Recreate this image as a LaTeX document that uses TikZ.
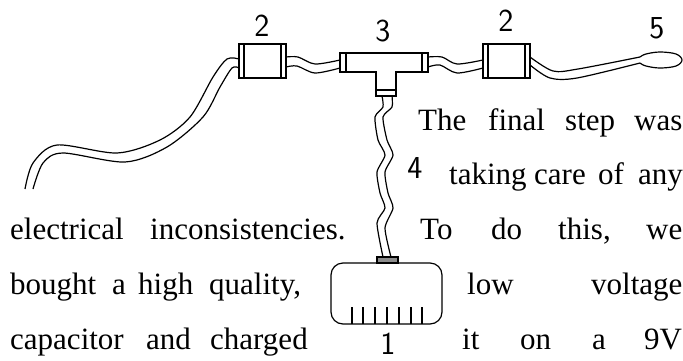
\documentclass[tikz,border=0pt]{standalone}
\usepackage{fontspec}
\setmainfont{Liberation Serif}
\begin{document}
\begin{tikzpicture}
        [x=1pt,y=-1pt,
        wire/.style={line width=1.2pt, smooth},
        part/.style={draw, line width=1.2pt},
        digit/.style={font=\fontsize{32}{32}\sffamily, inner sep=0pt},
        word/.style={anchor=base west, inner sep=0pt, font=\fontsize{31}{31}\selectfont}]
        \useasboundingbox (0,0) rectangle (683,360);

        % far left lead and first connector
        \draw[wire] plot[tension=0.5] coordinates {(25,189) (33,163) (57,145) (117,153) (160,140) (190,117) (213,77) (227,59) (239,59)};
        \draw[wire] plot[tension=0.5] coordinates {(33,189) (43,163) (63,153) (125,162) (167,147) (203,117) (220,87) (232,68) (239,68)};
        \node[part, minimum width=47pt, minimum height=34pt, inner sep=0pt] (boxA) at (262.5,61) {};
        \draw[line width=1.2pt] (244,44) -- (244,78);
        \draw[line width=1.2pt] (281,44) -- (281,78);
        \draw[wire] plot[tension=0.5] coordinates {(286,57) (298,57) (315,64) (340,60)};
        \draw[wire] plot[tension=0.5] coordinates {(286,67) (297,66) (315,73) (340,68)};

        % tee piece
        \draw[part] (340,53) rectangle (346,72);
        \draw[part] (422,53) rectangle (428,72);
        \draw[part] (346,53) -- (422,53) -- (422,72) -- (396,72) -- (396,96) -- (376,96) -- (376,72) -- (346,72) -- cycle;
        \draw[line width=1.2pt] (376,90) -- (396,90);

        % second connector and plug
        \draw[wire] plot[tension=0.5] coordinates {(428,57) (442,57) (457,64) (483,60)};
        \draw[wire] plot[tension=0.5] coordinates {(428,67) (440,65) (457,73) (483,68)};
        \node[part, minimum width=47pt, minimum height=34pt, inner sep=0pt] (boxB) at (506.5,61) {};
        \draw[line width=1.2pt] (488,44) -- (488,78);
        \draw[line width=1.2pt] (525,44) -- (525,78);
        \draw[wire] plot[tension=0.5] coordinates {(530,57) (553,71) (578,69) (640,57)};
        \draw[wire] plot[tension=0.5] coordinates {(530,65) (550,78) (577,78) (640,63)};
        \draw[wire] plot[tension=0.6] coordinates {(640,57) (646,54) (660,52) (676,54) (682,60) (676,66) (660,68) (646,66) (640,63)};

        % lead down to the battery
        \draw[wire] plot[tension=0.4] coordinates {(382,96) (383,107) (375,117) (378,140) (385,155) (377,172) (380,193) (385,208) (377,223) (383,257)};
        \draw[wire] plot[tension=0.4] coordinates {(392,96) (392,107) (383,117) (387,140) (393,155) (385,172) (388,193) (393,208) (385,228) (391,257)};

        % battery
        \node[part, rounded corners=12pt, minimum width=111pt, minimum height=61pt, inner sep=0pt] (battery) at (386.5,293.5) {};
        \draw[part, fill=gray!90] (377,257) rectangle (398,263);
        \foreach \tick in {352,363,375,387,399,411,422}
            \draw[line width=1.2pt] (\tick,307) -- (\tick,324);

        \node[digit] (labA) at (262,26) {2};
        \node[digit] (labB) at (383,31) {3};
        \node[digit] (labC) at (506,21) {2};
        \node[digit] (labD) at (657,28) {5};
        \node[digit] (labE) at (415,168) {4};
        \node[digit] (labF) at (388,344) {1};

        \node[word] (w1) at (418,130) {The};
        \node[word] (w2) at (488,130) {final};
        \node[word] (w3) at (565,130) {step};
        \node[word] (w4) at (634,130) {was};
        \node[word] (w5) at (449,184) {taking};
        \node[word] (w6) at (534,184) {care};
        \node[word] (w7) at (598,184) {of};
        \node[word] (w8) at (638,184) {any};
        \node[word] (w9) at (10,239) {electrical};
        \node[word] (w10) at (150,239) {inconsistencies.};
        \node[word] (w11) at (420,239) {To};
        \node[word] (w12) at (491,239) {do};
        \node[word] (w13) at (558,239) {this,};
        \node[word] (w14) at (646,239) {we};
        \node[word] (w15) at (10,294) {bought};
        \node[word] (w16) at (112,294) {a};
        \node[word] (w17) at (138,294) {high};
        \node[word] (w18) at (209,294) {quality,};
        \node[word] (w19) at (467,294) {low};
        \node[word] (w20) at (591,294) {voltage};
        \node[word] (w21) at (10,349) {capacitor};
        \node[word] (w22) at (146,349) {and};
        \node[word] (w23) at (210,349) {charged};
        \node[word] (w24) at (462,349) {it};
        \node[word] (w25) at (520,349) {on};
        \node[word] (w26) at (592,349) {a};
        \node[word] (w27) at (644,349) {9V};
    \end{tikzpicture}
\end{document}
